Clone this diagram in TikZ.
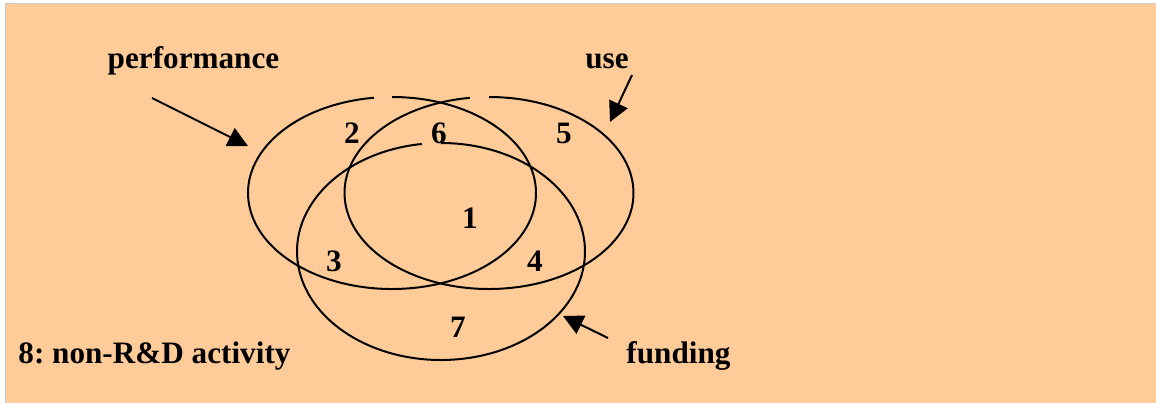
\documentclass[tikz,border=0pt]{standalone}
\usepackage{fontspec}
\setmainfont{Liberation Serif}
\usetikzlibrary{arrows.meta}
\definecolor{peach}{RGB}{255,204,153}
\frenchspacing

\begin{document}
\begin{tikzpicture}[x=0.5pt,y=0.5pt,
  lbl/.style={inner sep=0pt,anchor=base,font=\fontsize{15.6}{18}\selectfont\bfseries},
  ring/.style={line width=1pt},
  pointer/.style={line width=1pt,-{Triangle[length=10pt,width=10pt]}}]
\useasboundingbox (0,0) rectangle (1156,-402);
\draw[fill=peach,draw=black!20,line width=0.3pt] (5,-3) rectangle (1160,-406);
% the three sets, each with a small break near its top
\coordinate (perf) at (392,-193);
\coordinate (usec) at (489,-193);
\coordinate (fund) at (441,-251.5);
\draw[ring] ([shift={(97.2:144 and 96)}]perf) arc[start angle=97.2,end angle=450,x radius=144,y radius=96];
\draw[ring] ([shift={(97.6:144.5 and 96)}]usec) arc[start angle=97.6,end angle=450,x radius=144.5,y radius=96];
\draw[ring] ([shift={(97.6:144 and 108.5)}]fund) arc[start angle=97.6,end angle=450,x radius=144,y radius=108.5];
% region numbers
\node[lbl] (r1) at (470,-228) {1};
\node[lbl] (r2) at (352,-143) {2};
\node[lbl] (r3) at (334,-271) {3};
\node[lbl] (r4) at (535,-271) {4};
\node[lbl] (r5) at (564,-143) {5};
\node[lbl] (r6) at (439,-143) {6};
\node[lbl] (r7) at (458,-337) {7};
% captions
\node[lbl] (perflbl) at (193.5,-68) {performance};
\node[lbl] (uselbl) at (607,-68) {use};
\node[lbl] (fundlbl) at (678.5,-363) {funding};
\node[lbl,anchor=base west] (other) at (18,-363) {8: non-R\&D activity};
% pointers
\coordinate (perftail) at (152,-98);
\coordinate (perftip) at (248,-146);
\coordinate (usetail) at (632,-75);
\coordinate (usetip) at (610,-122);
\coordinate (fundtail) at (608,-338);
\coordinate (fundtip) at (563,-316);
\draw[pointer] (perftail) -- (perftip);
\draw[pointer] (usetail) -- (usetip);
\draw[pointer] (fundtail) -- (fundtip);
\end{tikzpicture}
\end{document}
